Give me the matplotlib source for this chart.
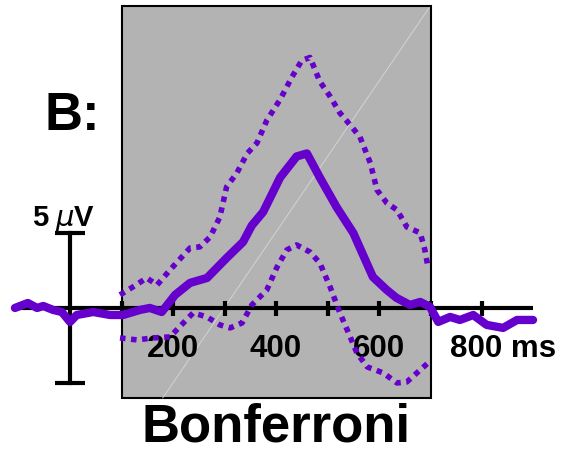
import matplotlib
matplotlib.use("Agg")
import matplotlib.pyplot as plt
from matplotlib.patches import Rectangle

plt.rcParams['font.family'] = ['Liberation Sans', 'DejaVu Sans']

# ---- data (time in ms, amplitude in microvolts) ----
mean_t = [-107, -82, -64, -52, -33, -16, 0, 13, 45, 78, 103, 136, 155, 178, 204, 233,
          266, 304, 336, 353, 375, 408, 440, 460, 485, 518, 550, 588, 615, 634, 660,
          680, 699, 715, 738, 757, 783, 809, 841, 868, 899]
mean_v = [0.0, 0.33, 0.0, 0.13, -0.13, -0.27, -0.93, -0.47, -0.27, -0.47, -0.47, -0.13,
          0.0, -0.27, 0.87, 1.67, 2.0, 3.33, 4.4, 5.5, 6.4, 8.7, 10.1, 10.3, 8.7, 6.7,
          5.0, 2.07, 1.2, 0.67, 0.2, 0.4, 0.07, -0.93, -0.6, -0.8, -0.47, -1.13, -1.33,
          -0.8, -0.8]

upper_t = [97, 122, 149, 169, 194, 233, 252, 272, 291, 304, 324, 344, 363, 382, 408,
           431, 450, 466, 485, 505, 524, 544, 563, 583, 596, 615, 635, 654, 680, 689, 695]
upper_v = [0.87, 1.4, 2.0, 1.53, 2.53, 4.0, 4.07, 4.73, 6.07, 8.07, 9.0, 10.3, 11.0,
           12.5, 13.9, 15.4, 16.5, 16.7, 15.1, 14.1, 13.0, 12.2, 11.4, 9.67, 7.87, 7.0,
           6.53, 5.4, 5.0, 3.87, 2.73]

lower_t = [97, 130, 161, 194, 220, 239, 266, 291, 311, 334, 353, 382, 402, 421, 440,
           466, 485, 505, 524, 544, 557, 577, 608, 635, 654, 680, 695]
lower_v = [-2.0, -2.13, -2.0, -1.93, -1.0, -0.33, -0.6, -1.13, -1.33, -1.0, 0.2, 1.2,
           2.73, 3.87, 4.2, 3.73, 3.0, 1.4, -0.33, -1.93, -3.0, -3.93, -4.33, -5.0,
           -4.93, -4.13, -3.67]

window = [100, 700]             # shaded analysis window (ms)
tick_ms = [100, 200, 300, 400, 500, 600, 700, 800]
tick_labels = {200: "200", 400: "400", 600: "600", 800: "800 ms"}
axis_range = [-107, 899]
scale_uv = 5

purple = '#6600cc'

fig = plt.figure(figsize=(5.67, 4.53), dpi=100)
ax = fig.add_axes([0, 0, 1, 1])
ax.set_xlim(-136, 965)
ax.set_ylim(-9.67, 20.53)
ax.axis('off')

# gray window
ax.add_patch(Rectangle((window[0], -6.0), window[1] - window[0], 26.1,
                       facecolor='#b3b3b3', edgecolor='black', linewidth=1.5, zorder=1))
# thin diagonal line inside the window
ax.plot([180, 697], [-6.0, 20.0], color='#d8d8d8', lw=0.6, zorder=1.5)

# x axis
ax.plot(axis_range, [0, 0], color='black', lw=3, zorder=2, solid_capstyle='butt')
for t in tick_ms:
    ax.plot([t, t], [-0.55, 0.45], color='black', lw=3, zorder=2, solid_capstyle='butt')
for t, lab in tick_labels.items():
    if t == 800:
        ax.text(t - 62, -2.75, lab, ha='left', va='center', fontsize=22.5,
                fontweight='bold', zorder=3)
    else:
        ax.text(t, -2.75, lab, ha='center', va='center', fontsize=22.5,
                fontweight='bold', zorder=3)

# y scale bar
ax.plot([0, 0], [-scale_uv, scale_uv], color='black', lw=3, zorder=2)
for yv in (-scale_uv, scale_uv):
    ax.plot([-29, 29], [yv, yv], color='black', lw=3, zorder=2, solid_capstyle='butt')
ax.text(-73, 5.45, "5", ha='left', va='baseline', fontsize=21,
        fontweight='bold', zorder=3)
ax.text(-29, 5.45, r"$\mathit{\mu}$V", ha='left', va='baseline', fontsize=21,
        fontweight='bold', zorder=3)

# data lines
ax.plot(upper_t, upper_v, color=purple, lw=4, linestyle=(0, (1, 1)), zorder=3)
ax.plot(lower_t, lower_v, color=purple, lw=4, linestyle=(0, (1, 1)), zorder=3)
ax.plot(mean_t, mean_v, color=purple, lw=6, zorder=4, solid_joinstyle='round',
        solid_capstyle='round')

# titles
ax.text(4, 12.8, "B:", ha='center', va='center', fontsize=38, fontweight='bold')
ax.text(400, -7.95, "Bonferroni", ha='center', va='center', fontsize=38, fontweight='bold')

fig.savefig("out.png", dpi=100)
